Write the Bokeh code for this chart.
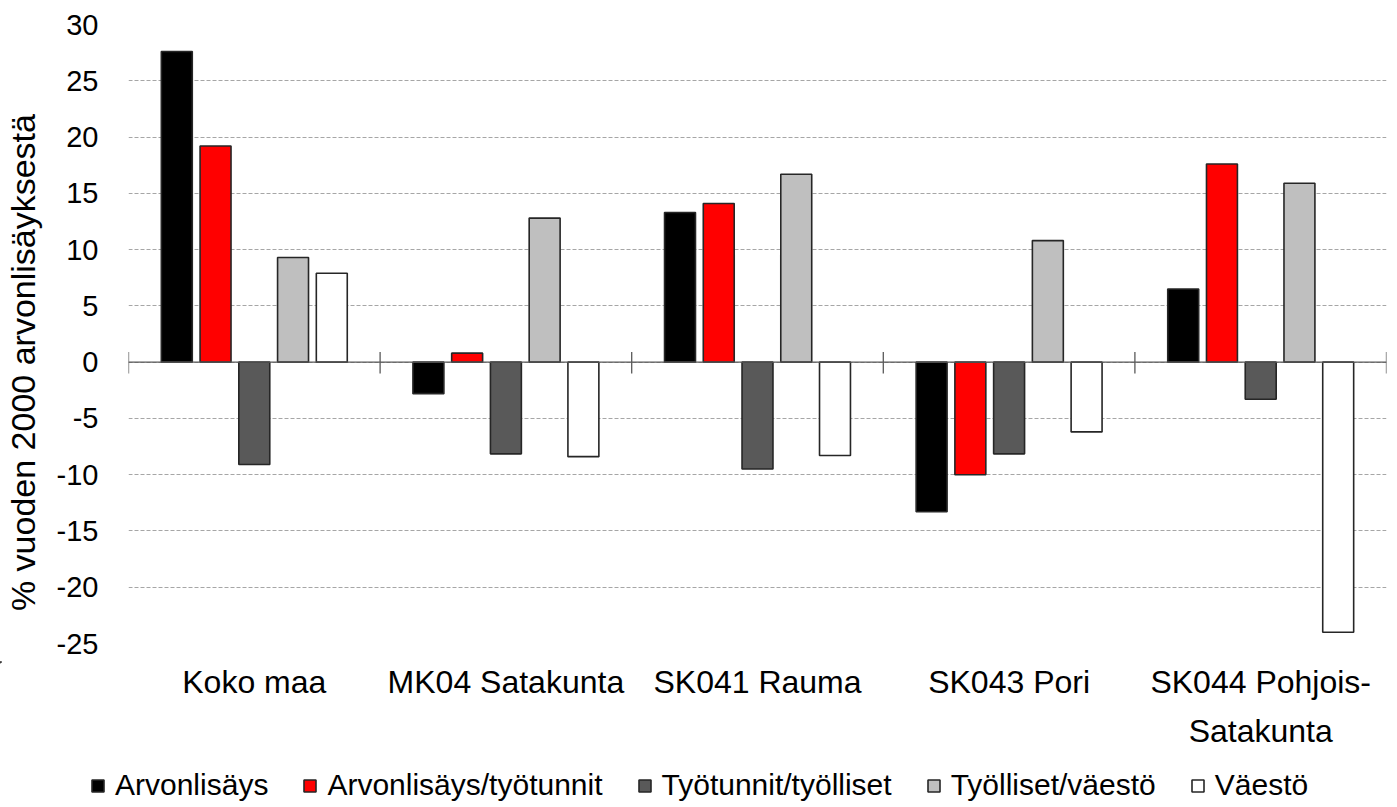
import math
from bokeh.plotting import figure
from bokeh.layouts import row, column
from bokeh.models import Range1d, FixedTicker, Span, Legend, LegendItem
from bokeh.core.properties import value
from bokeh.embed import file_html
from bokeh.resources import INLINE

categories = ["Koko maa", "MK04 Satakunta", "SK041 Rauma", "SK043 Pori", "SK044 Pohjois-\nSatakunta"]
series_names = ["Arvonlisäys", "Arvonlisäys/työtunnit", "Työtunnit/työlliset", "Työlliset/väestö", "Väestö"]
arvonlisays = [27.6, -2.8, 13.3, -13.3, 6.5]
arvonlisays_tyotunnit = [19.2, 0.8, 14.1, -10.0, 17.6]
tyotunnit_tyolliset = [-9.1, -8.15, -9.5, -8.15, -3.3]
tyolliset_vaesto = [9.3, 12.8, 16.7, 10.8, 15.9]
vaesto = [7.9, -8.4, -8.3, -6.2, -24.0]
colors = ["#000000", "#FF0000", "#595959", "#BFBFBF", "#FFFFFF"]
y_ticks = [-25, -20, -15, -10, -5, 0, 5, 10, 15, 20, 25, 30]
y_title = "% vuoden 2000 arvonlisäyksestä"

FONT = "Liberation Sans"
LABEL_W = 48          # width of the y-title strip
PLOT_BORDER_L = 80    # room for y tick labels
FRAME_W, FRAME_H = 1258, 619
TOP, RIGHT, PLOT_BOTTOM = 24, 10, 18
BOTTOM_H = 145
n = len(categories)
px_per_cat = FRAME_W / n

# ---------------- main plot ----------------
p = figure(frame_width=FRAME_W, frame_height=FRAME_H, output_backend="svg", toolbar_location=None,
           x_range=Range1d(0, n), y_range=Range1d(y_ticks[0], y_ticks[-1]),
           x_axis_location=None,
           min_border_left=PLOT_BORDER_L, min_border_right=RIGHT, min_border_top=TOP,
           min_border_bottom=PLOT_BOTTOM)
p.outline_line_color = None
p.xgrid.grid_line_color = None
p.ygrid.ticker = FixedTicker(ticks=y_ticks)
p.ygrid.grid_line_color = "#A6A6A6"
p.ygrid.grid_line_dash = "4 2"
p.ygrid.grid_line_width = 1

p.yaxis.ticker = FixedTicker(ticks=y_ticks)
p.yaxis.major_label_overrides = {t: str(t) for t in y_ticks}
p.yaxis.axis_line_color = None
p.yaxis.major_tick_line_color = None
p.yaxis.minor_tick_line_color = None
p.yaxis.major_tick_out = 0
p.yaxis.major_tick_in = 0
p.yaxis.major_label_standoff = 30
p.yaxis.major_label_text_font = FONT
p.yaxis.major_label_text_font_size = "29px"
p.yaxis.major_label_text_color = "#000000"

all_series = [arvonlisays, arvonlisays_tyotunnit, tyotunnit_tyolliset, tyolliset_vaesto, vaesto]
pitch = 0.154
bar_w = 0.123
for j, (vals, col) in enumerate(zip(all_series, colors)):
    xs = [i + 0.5 + (j - 2) * pitch for i in range(n)]
    p.vbar(x=xs, top=vals, bottom=0, width=bar_w, fill_color=col,
           line_color="#262626", line_width=1.6)

p.add_layout(Span(location=0, dimension="width", line_color="#595959", line_width=1.3))
bx = list(range(n + 1))
p.segment(x0=bx, x1=bx, y0=[-1.0] * len(bx), y1=[0.9] * len(bx), line_color="#595959", line_width=1.3)

plot_h = TOP + FRAME_H + PLOT_BOTTOM

# ---------------- y title strip ----------------
plab = figure(width=LABEL_W, height=plot_h, output_backend="svg", toolbar_location=None,
              x_range=Range1d(0, LABEL_W), y_range=Range1d(plot_h, 0),
              x_axis_location=None, y_axis_location=None,
              min_border=0, min_border_left=0, min_border_right=0, min_border_top=0, min_border_bottom=0)
plab.outline_line_color = None
plab.grid.grid_line_color = None
plab.text(x=[22], y=[361], text=[y_title], angle=math.pi / 2, text_align="center",
          text_baseline="middle", text_font=value(FONT), text_font_size=value("34px"),
          text_color="#000000")

# ---------------- category labels + legend strip ----------------
full_w = LABEL_W + PLOT_BORDER_L + FRAME_W + RIGHT
left_cats = (LABEL_W + PLOT_BORDER_L) / px_per_cat
right_cats = RIGHT / px_per_cat
p2 = figure(width=full_w, height=BOTTOM_H, output_backend="svg", toolbar_location=None,
            x_range=Range1d(-left_cats, n + right_cats), y_range=Range1d(BOTTOM_H, 0),
            x_axis_location=None, y_axis_location=None,
            min_border=0, min_border_left=0, min_border_right=0, min_border_top=0, min_border_bottom=0)
p2.outline_line_color = None
p2.grid.grid_line_color = None

lx, ly, lt = [], [], []
for i, cat in enumerate(categories):
    for k, line in enumerate(cat.split("\n")):
        lx.append(i + 0.5)
        ly.append(20 + 49 * k)
        lt.append(line)
p2.text(x=lx, y=ly, text=lt, text_align="center", text_baseline="middle",
        text_font=value(FONT), text_font_size=value("32px"), text_color="#000000")

# legend proxies (kept outside the visible x range)
items = []
for name, col in zip(series_names, colors):
    r = p2.vbar(x=[-50], top=[1], bottom=0, width=0.1, fill_color=col, line_color="#262626", line_width=1.6)
    items.append(LegendItem(label=name, renderers=[r]))
legend = Legend(items=items, orientation="horizontal", location=(90, 4))
legend.label_text_font = FONT
legend.label_text_font_size = "30px"
legend.label_text_color = "#000000"
legend.glyph_width = 15
legend.glyph_height = 15
legend.label_standoff = 10
legend.spacing = 34
legend.border_line_color = None
legend.background_fill_alpha = 0
legend.margin = 0
legend.padding = 0
p2.add_layout(legend, "center")

layout = column(row(plab, p, spacing=0), p2, spacing=0)
open("out.html", "w").write(file_html(layout, INLINE))
